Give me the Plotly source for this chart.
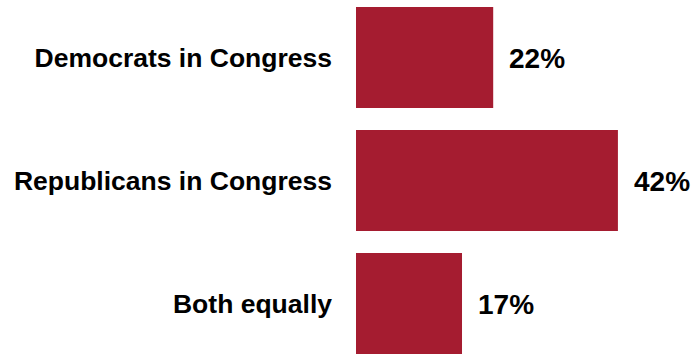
import plotly.graph_objects as go

categories = ["Democrats in Congress", "Republicans in Congress", "Both equally"]
values = [22, 42, 17]
value_labels = ["22%", "42%", "17%"]

bar_color = "#A51C30"
font_family = "Liberation Sans, Arial, Helvetica, sans-serif"

fig = go.Figure()
fig.add_trace(go.Bar(
    y=categories,
    x=values,
    orientation="h",
    marker=dict(color=bar_color, line=dict(width=0)),
    width=0.82,
    hoverinfo="skip",
))

for cat, v, lab in zip(categories, values, value_labels):
    fig.add_annotation(
        x=v, y=cat, text="<b>%s</b>" % lab, showarrow=False,
        xanchor="left", yanchor="middle", xshift=14, yshift=-1,
        font=dict(family=font_family, size=28, color="#000000"),
    )

fig.update_layout(
    width=694, height=358,
    margin=dict(l=356, r=0, t=0, b=0, autoexpand=False),
    paper_bgcolor="white", plot_bgcolor="white",
    showlegend=False,
    font=dict(family=font_family, color="#000000"),
    xaxis=dict(range=[0, 54.2], visible=False, fixedrange=True),
    yaxis=dict(
        categoryorder="array", categoryarray=categories,
        range=[2.443, -0.467],
        showgrid=False, zeroline=False, showline=False, ticks="",
        tickfont=dict(family=font_family, size=26.5, color="#000000"),
        ticklabelstandoff=23,
        automargin=False,
        tickvals=categories,
        ticktext=["<b>%s</b>" % c for c in categories],
    ),
)

fig.write_html("out.html", config={"displayModeBar": False},
               post_script="document.body.style.margin='0';")
